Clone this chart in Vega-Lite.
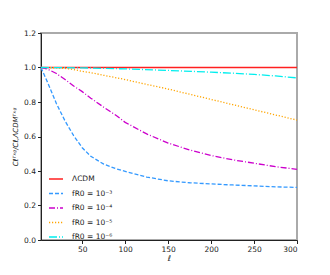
{
  "$schema": "https://vega.github.io/schema/vega-lite/v6.json",
  "width": 256,
  "height": 207,
  "autosize": {"type": "none"},
  "padding": {"left": 41, "top": 33, "right": 33, "bottom": 35},
  "background": "white",
  "config": {
    "font": "DejaVu Sans",
    "view": {"stroke": "#aaaaaa", "strokeWidth": 2},
    "axis": {"grid": false, "labelFont": "DejaVu Sans", "labelFontSize": 7.5, "labelColor": "#222", "tickColor": "#222", "domainColor": "#222", "tickSize": 3.5, "titleFont": "DejaVu Sans", "titleFontWeight": "normal", "titleColor": "#222"}
  },
  "data": {"values": [
    {"l": 2, "v": 1.0, "s": "ΛCDM"},
    {"l": 150, "v": 1.0, "s": "ΛCDM"},
    {"l": 300, "v": 1.0, "s": "ΛCDM"},
    {"l": 2, "v": 1.0, "s": "fR0 = 10⁻³"},
    {"l": 10, "v": 0.91, "s": "fR0 = 10⁻³"},
    {"l": 20, "v": 0.79, "s": "fR0 = 10⁻³"},
    {"l": 30, "v": 0.69, "s": "fR0 = 10⁻³"},
    {"l": 40, "v": 0.605, "s": "fR0 = 10⁻³"},
    {"l": 50, "v": 0.535, "s": "fR0 = 10⁻³"},
    {"l": 60, "v": 0.485, "s": "fR0 = 10⁻³"},
    {"l": 75, "v": 0.44, "s": "fR0 = 10⁻³"},
    {"l": 90, "v": 0.412, "s": "fR0 = 10⁻³"},
    {"l": 100, "v": 0.398, "s": "fR0 = 10⁻³"},
    {"l": 125, "v": 0.365, "s": "fR0 = 10⁻³"},
    {"l": 150, "v": 0.343, "s": "fR0 = 10⁻³"},
    {"l": 175, "v": 0.332, "s": "fR0 = 10⁻³"},
    {"l": 200, "v": 0.325, "s": "fR0 = 10⁻³"},
    {"l": 225, "v": 0.319, "s": "fR0 = 10⁻³"},
    {"l": 250, "v": 0.314, "s": "fR0 = 10⁻³"},
    {"l": 275, "v": 0.308, "s": "fR0 = 10⁻³"},
    {"l": 300, "v": 0.305, "s": "fR0 = 10⁻³"},
    {"l": 2, "v": 1.0, "s": "fR0 = 10⁻⁴"},
    {"l": 10, "v": 0.99, "s": "fR0 = 10⁻⁴"},
    {"l": 20, "v": 0.965, "s": "fR0 = 10⁻⁴"},
    {"l": 30, "v": 0.93, "s": "fR0 = 10⁻⁴"},
    {"l": 40, "v": 0.893, "s": "fR0 = 10⁻⁴"},
    {"l": 50, "v": 0.86, "s": "fR0 = 10⁻⁴"},
    {"l": 60, "v": 0.822, "s": "fR0 = 10⁻⁴"},
    {"l": 75, "v": 0.77, "s": "fR0 = 10⁻⁴"},
    {"l": 90, "v": 0.72, "s": "fR0 = 10⁻⁴"},
    {"l": 100, "v": 0.682, "s": "fR0 = 10⁻⁴"},
    {"l": 125, "v": 0.615, "s": "fR0 = 10⁻⁴"},
    {"l": 150, "v": 0.562, "s": "fR0 = 10⁻⁴"},
    {"l": 175, "v": 0.522, "s": "fR0 = 10⁻⁴"},
    {"l": 200, "v": 0.49, "s": "fR0 = 10⁻⁴"},
    {"l": 225, "v": 0.465, "s": "fR0 = 10⁻⁴"},
    {"l": 250, "v": 0.445, "s": "fR0 = 10⁻⁴"},
    {"l": 275, "v": 0.425, "s": "fR0 = 10⁻⁴"},
    {"l": 300, "v": 0.41, "s": "fR0 = 10⁻⁴"},
    {"l": 2, "v": 1.0, "s": "fR0 = 10⁻⁵"},
    {"l": 20, "v": 0.998, "s": "fR0 = 10⁻⁵"},
    {"l": 30, "v": 0.995, "s": "fR0 = 10⁻⁵"},
    {"l": 40, "v": 0.988, "s": "fR0 = 10⁻⁵"},
    {"l": 50, "v": 0.978, "s": "fR0 = 10⁻⁵"},
    {"l": 60, "v": 0.97, "s": "fR0 = 10⁻⁵"},
    {"l": 75, "v": 0.955, "s": "fR0 = 10⁻⁵"},
    {"l": 100, "v": 0.93, "s": "fR0 = 10⁻⁵"},
    {"l": 125, "v": 0.902, "s": "fR0 = 10⁻⁵"},
    {"l": 150, "v": 0.875, "s": "fR0 = 10⁻⁵"},
    {"l": 175, "v": 0.845, "s": "fR0 = 10⁻⁵"},
    {"l": 200, "v": 0.815, "s": "fR0 = 10⁻⁵"},
    {"l": 225, "v": 0.785, "s": "fR0 = 10⁻⁵"},
    {"l": 250, "v": 0.755, "s": "fR0 = 10⁻⁵"},
    {"l": 275, "v": 0.725, "s": "fR0 = 10⁻⁵"},
    {"l": 300, "v": 0.695, "s": "fR0 = 10⁻⁵"},
    {"l": 2, "v": 1.0, "s": "fR0 = 10⁻⁶"},
    {"l": 50, "v": 0.998, "s": "fR0 = 10⁻⁶"},
    {"l": 100, "v": 0.992, "s": "fR0 = 10⁻⁶"},
    {"l": 150, "v": 0.983, "s": "fR0 = 10⁻⁶"},
    {"l": 200, "v": 0.973, "s": "fR0 = 10⁻⁶"},
    {"l": 225, "v": 0.967, "s": "fR0 = 10⁻⁶"},
    {"l": 250, "v": 0.96, "s": "fR0 = 10⁻⁶"},
    {"l": 275, "v": 0.951, "s": "fR0 = 10⁻⁶"},
    {"l": 300, "v": 0.94, "s": "fR0 = 10⁻⁶"}
  ]},
  "mark": {"type": "line", "strokeWidth": 1.3, "clip": false},
  "encoding": {
    "x": {"field": "l", "type": "quantitative", "scale": {"domain": [2, 300], "nice": false, "zero": false},
      "axis": {"values": [50, 100, 150, 200, 250, 300], "title": "ℓ", "titleFontSize": 8, "titleFontStyle": "italic", "titlePadding": 1}},
    "y": {"field": "v", "type": "quantitative", "scale": {"domain": [0, 1.2], "nice": false},
      "axis": {"values": [0, 0.2, 0.4, 0.6, 0.8, 1.0, 1.2], "format": ".1f", "title": "Cℓᵀˣᵍ/Cℓ,ΛCDMᵀˣᵍ", "titleFontSize": 7, "titleFontStyle": "italic", "titlePadding": 5}},
    "color": {"field": "s", "type": "nominal",
      "scale": {"domain": ["ΛCDM", "fR0 = 10⁻³", "fR0 = 10⁻⁴", "fR0 = 10⁻⁵", "fR0 = 10⁻⁶"], "range": ["#ff2020", "#3399ff", "#cc00cc", "#ffa500", "#00eeee"]},
      "legend": {"title": null, "orient": "none", "legendX": 7, "legendY": 138, "symbolType": "stroke", "symbolSize": 196, "symbolStrokeWidth": 1.5, "labelFontSize": 7.5, "labelFont": "DejaVu Sans", "labelColor": "#222", "labelOffset": 8, "rowPadding": 2.5, "padding": 0}},
    "strokeDash": {"field": "s", "type": "nominal",
      "scale": {"domain": ["ΛCDM", "fR0 = 10⁻³", "fR0 = 10⁻⁴", "fR0 = 10⁻⁵", "fR0 = 10⁻⁶"], "range": [[1, 0], [4, 2], [6, 2, 1, 2], [1.2, 1.8], [8, 2, 1, 2]]}}
  }
}
